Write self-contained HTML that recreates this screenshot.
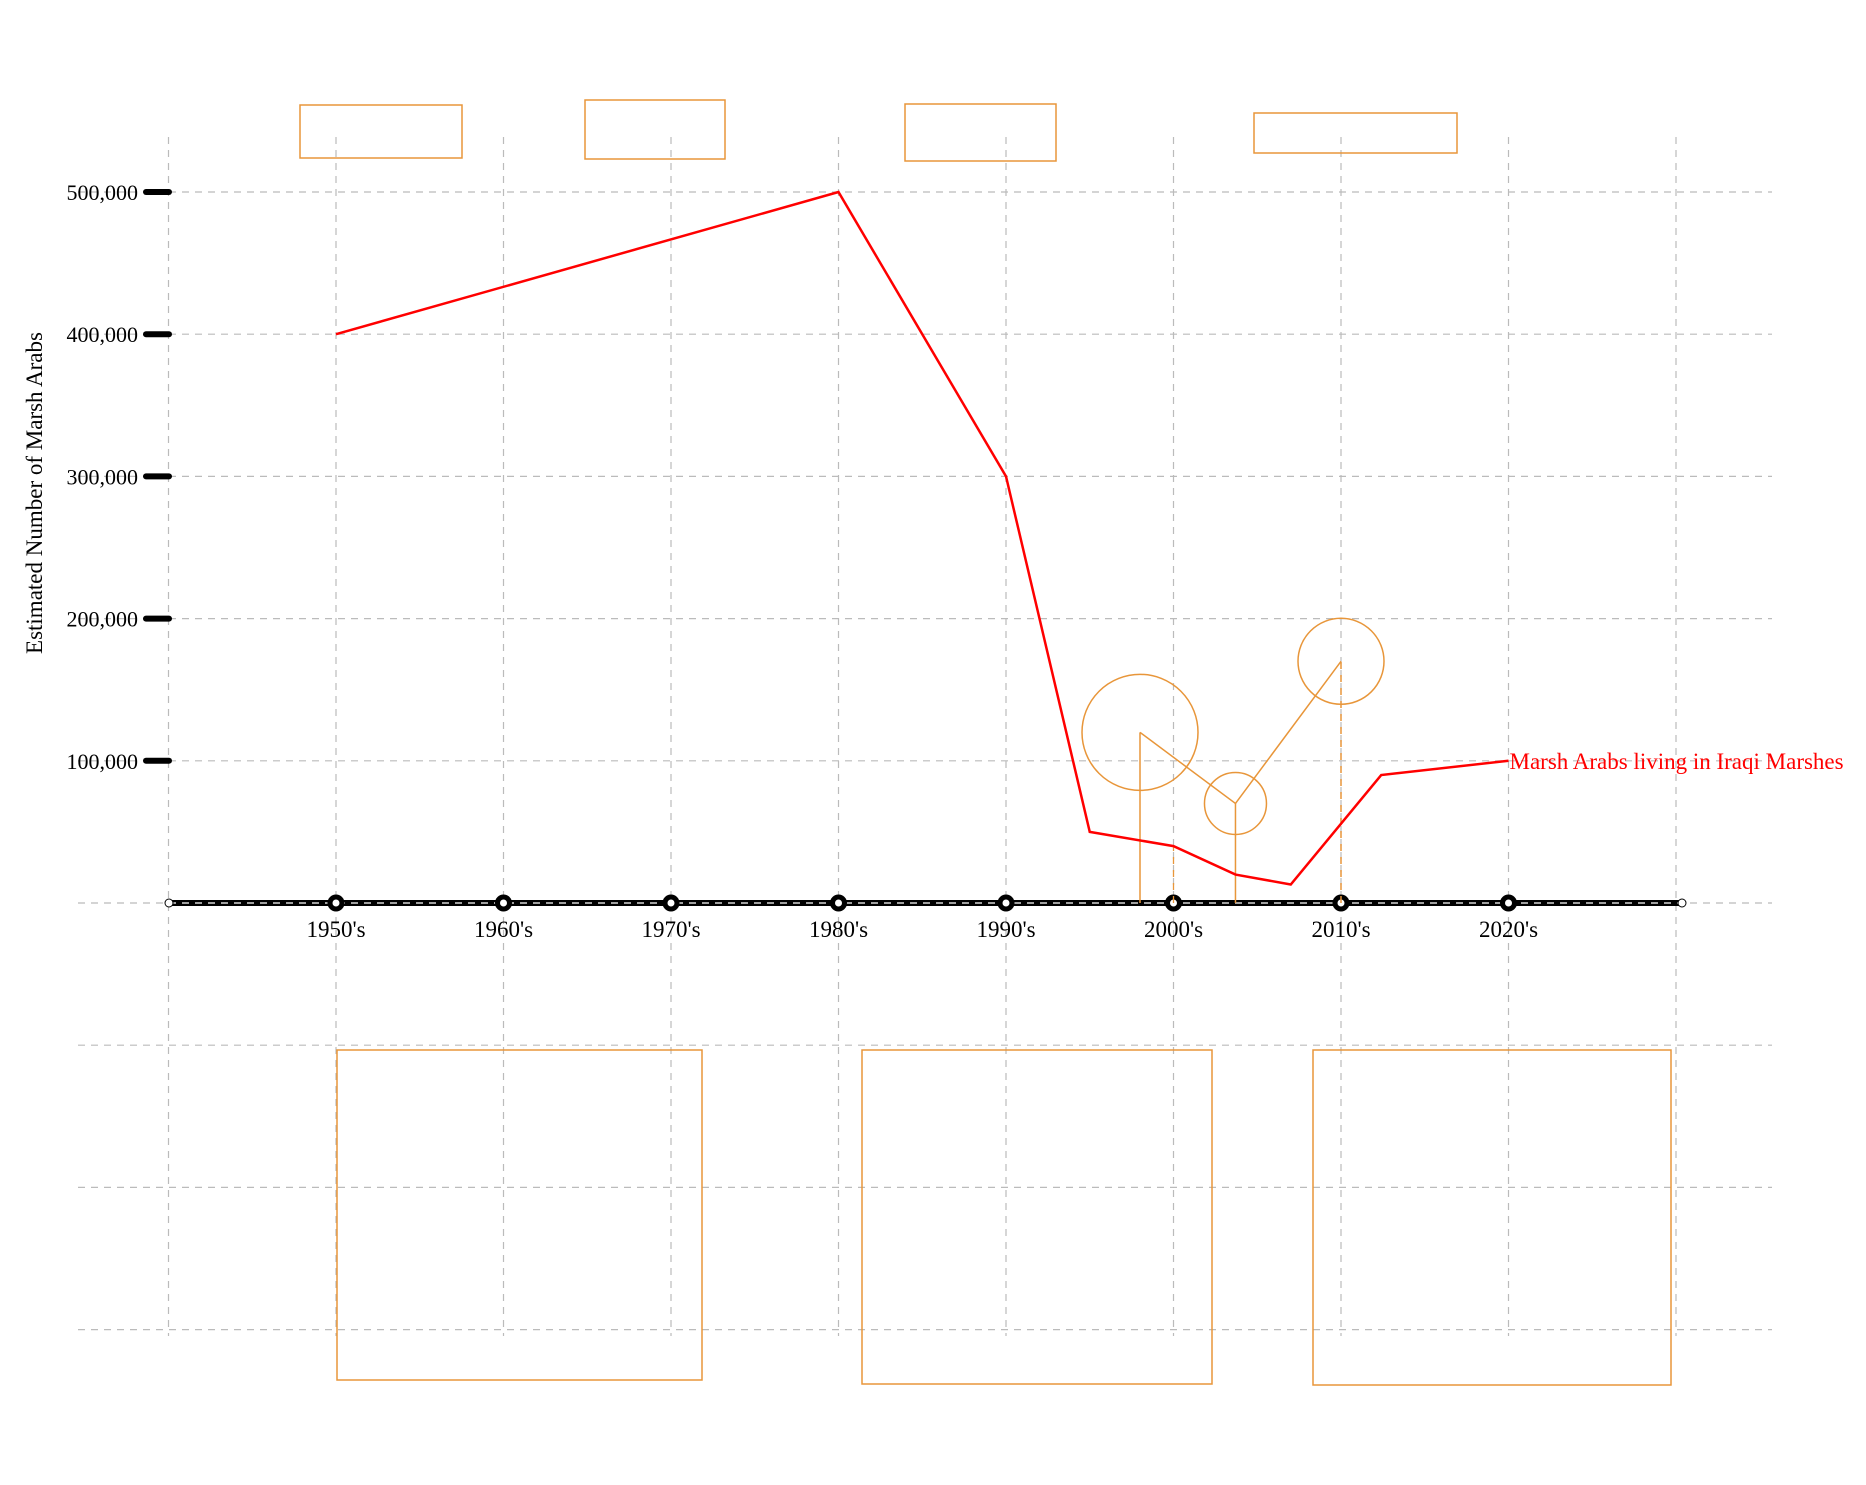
<!DOCTYPE html>
<html><head><meta charset="utf-8"><style>
html,body{margin:0;padding:0;background:#fff}
svg{display:block;font-family:"Liberation Serif",serif}
</style></head><body>
<svg id="chart" width="1866" height="1485" viewBox="0 0 1866 1485" xmlns="http://www.w3.org/2000/svg">
<g id="grid"></g>
<g id="deco"></g>
<g id="axes"></g>
<g id="series"></g>
</svg>
<script>
const decadeLabels=["1950's","1960's","1970's","1980's","1990's","2000's","2010's","2020's"];
const decadeYears=[1950,1960,1970,1980,1990,2000,2010,2020];
const yTicks=[100000,200000,300000,400000,500000];
const yTickLabels=["100,000","200,000","300,000","400,000","500,000"];
const redYears=[1950,1980,1990,1995,2000,2003.7,2007,2012.4,2020];
const redValues=[400000,500000,300000,50000,40000,20000,13000,90000,100000];
const orangeYears=[1998,2003.7,2010];
const orangeValues=[120000,70000,170000];
const orangeRadius=[58,31,43];
const seriesLabel="Marsh Arabs living in Iraqi Marshes";

const NS="http://www.w3.org/2000/svg";
const X=y=>336+(y-1950)*16.75;
const Y=v=>903-v/100000*142.2;
function mk(parent,tag,attrs){const e=document.createElementNS(NS,tag);for(const k in attrs)e.setAttribute(k,attrs[k]);parent.appendChild(e);return e;}
const grid=document.getElementById('grid'),axes=document.getElementById('axes'),series=document.getElementById('series'),deco=document.getElementById('deco');

for(let v=-300000;v<=500000;v+=100000){
  const l=mk(grid,'line',{x1:78,x2:1772,y1:Y(v),y2:Y(v),stroke:'#bbb','stroke-width':1.2,'stroke-dasharray':'7,6'});
  
  
}
for(let yr=1940;yr<=2030;yr+=10){
  const l=mk(grid,'line',{x1:X(yr),x2:X(yr),y1:137,y2:1336,stroke:'#bbb','stroke-width':1.2,'stroke-dasharray':'7,6'});
  
  
}

const boxes=[[300,105,162,53],[585,100,140,59],[905,104,151,57],[1254,113,203,40],[337,1050,365,330],[862,1050,350,334],[1313,1050,358,335]];
boxes.forEach(b=>{
  const r=mk(deco,'rect',{x:b[0],y:b[1],width:b[2],height:b[3],fill:'none',stroke:'#e8963a','stroke-width':1.5});
  
  
});

yTicks.forEach((v,i)=>{
  const t=mk(axes,'line',{x1:146,x2:169,y1:Y(v),y2:Y(v),stroke:'#000','stroke-width':6,'stroke-linecap':'round'});
  
  
  const tx=mk(axes,'text',{x:138,y:Y(v)+8,'text-anchor':'end','font-size':22,fill:'#000',transform:'translate(0,0)'});
  tx.textContent=yTickLabels[i];
  
  
});
const yt=mk(axes,'text',{x:0,y:0,transform:'translate(42,493) rotate(-90)','text-anchor':'middle','font-size':23,fill:'#000'});
yt.textContent='Estimated Number of Marsh Arabs';



const ax=mk(axes,'line',{x1:169,x2:1682,y1:903,y2:903,stroke:'#000','stroke-width':6});


const axd=mk(axes,'line',{x1:169,x2:1682,y1:903,y2:903,stroke:'#fff','stroke-width':1.2,'stroke-dasharray':'7,6'});


[169,1682].forEach(x=>{
  const c=mk(axes,'circle',{cx:x,cy:903,r:4,fill:'#fff',stroke:'#000','stroke-width':1});
  
  
});
decadeYears.forEach((yr,i)=>{
  const c=mk(axes,'circle',{cx:X(yr),cy:903,r:6,fill:'#fff',stroke:'#000','stroke-width':5});
  
  
  const t=mk(axes,'text',{x:X(yr),y:937,'text-anchor':'middle','font-size':23,fill:'#000'});
  t.textContent=decadeLabels[i];
  
  
});

const o1=mk(series,'line',{x1:X(2000),x2:X(2000),y1:903,y2:Y(redValues[4]),stroke:'#e8963a','stroke-width':1.3,'stroke-dasharray':'7,6'});


orangeYears.forEach((yr,i)=>{
  const d=mk(series,'line',{x1:X(yr),x2:X(yr),y1:903,y2:Y(orangeValues[i]),stroke:'#e8963a','stroke-width':1.5,'stroke-dasharray':i==2?'7,6':'none'});
  
  
  const c=mk(series,'circle',{cx:X(yr),cy:Y(orangeValues[i]),r:orangeRadius[i],fill:'none',stroke:'#e8963a','stroke-width':1.5});
  
  
});
const op=mk(series,'polyline',{points:orangeYears.map((yr,i)=>X(yr)+','+Y(orangeValues[i])).join(' '),fill:'none',stroke:'#e8963a','stroke-width':1.5});



const rp=mk(series,'polyline',{points:redYears.map((yr,i)=>X(yr)+','+Y(redValues[i])).join(' '),fill:'none',stroke:'#f00','stroke-width':2.5,'stroke-linejoin':'miter'});


const rl=mk(series,'text',{x:X(redYears[redYears.length-1])+1,y:Y(redValues[redValues.length-1])+8,'font-size':23,fill:'#f00'});
rl.textContent=seriesLabel;


</script>
</body></html>
